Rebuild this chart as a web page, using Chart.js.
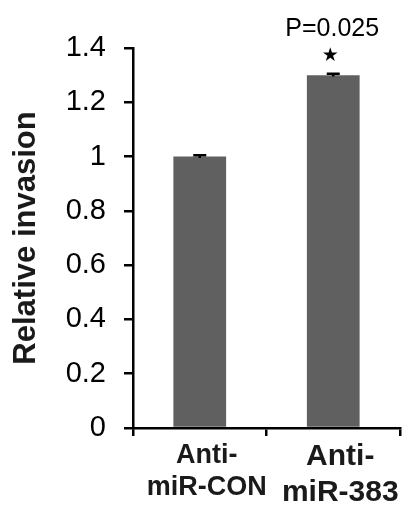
<!DOCTYPE html>
<html lang="en">
<head>
    <meta charset="UTF-8">
    <title>Relative invasion</title>
    <script src="https://cdn.jsdelivr.net/npm/chart.js"></script>
    <style>
        html, body {
            margin: 0;
            padding: 0;
            background: white;
        }
        #wrap {
            width: 417px;
            height: 510px;
            position: relative;
        }
    </style>
</head>
<body>
    <div id="wrap"><canvas id="invasionChart"></canvas></div>
    <script>
        const categories = [['Anti-', 'miR-CON'], ['Anti-', 'miR-383']];
        const invasion = [1.0, 1.3];
        const errors = [0.005, 0.005];
        const yTicks = [0, 0.2, 0.4, 0.6, 0.8, 1, 1.2, 1.4];
        const labelSizes = [27, 30];
        const pValueText = 'P=0.025';
        const starText = '★';

        const FONT = "'Liberation Sans', Arial, sans-serif";

        // error bars + significance mark
        const extrasPlugin = {
            id: 'extras',
            afterDatasetsDraw(chart) {
                const c = chart.ctx;
                const x = chart.scales.x;
                const y = chart.scales.y;
                c.save();
                c.strokeStyle = '#000';
                c.lineWidth = 2.5;
                invasion.forEach((v, i) => {
                    const px = x.getPixelForValue(i);
                    const top = y.getPixelForValue(v + errors[i]);
                    const bot = y.getPixelForValue(v - errors[i]);
                    c.beginPath();
                    c.moveTo(px, top);
                    c.lineTo(px, bot);
                    c.moveTo(px - 6.5, top);
                    c.lineTo(px + 6.5, top);
                    c.stroke();
                });
                const sx = x.getPixelForValue(1);
                const sy = y.getPixelForValue(invasion[1] + errors[1]);
                c.fillStyle = '#000';
                c.textAlign = 'center';
                c.textBaseline = 'middle';
                c.font = "19px 'DejaVu Sans', sans-serif";
                c.fillText(starText, sx - 3, sy - 18);
                c.font = '25px ' + FONT;
                c.fillText(pValueText, sx - 1, sy - 45);
                c.restore();
            }
        };

        new Chart(document.getElementById('invasionChart'), {
            type: 'bar',
            data: {
                labels: categories,
                datasets: [{
                    data: invasion,
                    backgroundColor: '#5f605f',
                    borderWidth: 0,
                    categoryPercentage: 1,
                    barPercentage: 0.395
                }]
            },
            options: {
                responsive: true,
                maintainAspectRatio: false,
                animation: false,
                layout: { padding: { top: 48, right: 17, left: 0, bottom: 0 } },
                plugins: {
                    legend: { display: false },
                    tooltip: { enabled: false }
                },
                scales: {
                    x: {
                        afterFit: s => { s.height = 82; },
                        border: { display: true, color: '#000', width: 2.5 },
                        grid: {
                            display: true,
                            offset: true,
                            drawOnChartArea: false,
                            drawTicks: true,
                            tickLength: 8,
                            color: '#000',
                            lineWidth: 2.5
                        },
                        ticks: {
                            color: '#1a1a1a',
                            padding: 3,
                            labelOffset: 7,
                            maxRotation: 0,
                            font: ctx => ({ family: FONT, size: labelSizes[ctx.index] || 27, weight: 'bold', lineHeight: 1.2 })
                        }
                    },
                    y: {
                        min: 0,
                        max: 1.4,
                        afterFit: s => { s.width = 133; },
                        afterBuildTicks: s => { s.ticks = yTicks.map(v => ({ value: v })); },
                        border: { display: true, color: '#000', width: 2.5 },
                        grid: {
                            display: true,
                            drawOnChartArea: false,
                            drawTicks: true,
                            tickLength: 9,
                            color: '#000',
                            lineWidth: 2.5
                        },
                        ticks: {
                            color: '#000',
                            padding: 18,
                            font: { family: FONT, size: 29 },
                            callback: v => String(Math.round(v * 10) / 10)
                        },
                        title: {
                            display: true,
                            text: 'Relative invasion',
                            color: '#1a1a1a',
                            padding: { top: 8, bottom: 0 },
                            font: { family: FONT, size: 31, weight: 'bold' }
                        }
                    }
                }
            },
            plugins: [extrasPlugin]
        });
    </script>
</body>
</html>
